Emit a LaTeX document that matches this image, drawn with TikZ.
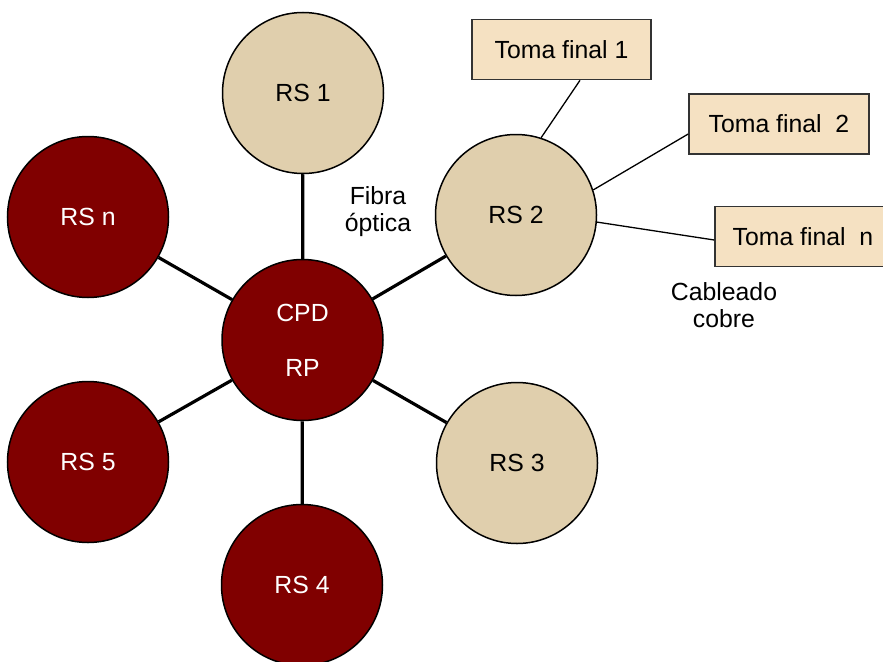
\documentclass[tikz,border=0pt]{standalone}
\usepackage{fontspec}
\setmainfont{Liberation Sans}
\definecolor{darkred}{HTML}{800000}
\definecolor{tanfill}{HTML}{E0CFAD}
\definecolor{boxfill}{HTML}{F5E1C2}
\definecolor{boxline}{HTML}{333333}
\begin{document}
\begin{tikzpicture}[x=1pt,y=-1pt,
  every node/.style={font=\fontsize{24.8}{27}\selectfont, inner sep=0pt},
  redc/.style={circle, draw=black, line width=1.5pt, fill=darkred, text=white, minimum size=161pt},
  tanc/.style={circle, draw=black, line width=1.5pt, fill=tanfill, text=black, minimum size=161pt},
  tbox/.style={rectangle, draw=boxline, line width=1.6pt, fill=boxfill, minimum height=60pt},
  fibre/.style={line width=3.2pt, black},
  copper/.style={line width=1.3pt, black},
  lbl/.style={align=center}]
\useasboundingbox (0,0) rectangle (883,661);
\clip (0,0) rectangle (883,661);
\node[redc, align=center] (cpd) at (302.5,340) {CPD\\[28pt]RP};
\node[tanc] (rs1) at (303,93) {RS 1};
\node[tanc] (rs2) at (516,215) {RS 2};
\node[tanc] (rs3) at (517,463) {RS 3};
\node[redc] (rs4) at (302,585) {RS 4};
\node[redc] (rs5) at (88,462) {RS 5};
\node[redc] (rsn) at (88,217) {RS n};
\node[tbox, minimum width=179pt] (tf1) at (561.5,49.5) {Toma final 1};
\node[tbox, minimum width=180pt] (tf2) at (779,124) {Toma final\ \ 2};
\node[tbox, minimum width=176pt] (tfn) at (803,236.5) {Toma final\ \ n};
\node[lbl] (fo) at (378,212) {Fibra\\óptica};
\node[lbl] (cc) at (724,305) {Cableado\\cobre};
\draw[fibre] (cpd) -- (rs1);
\draw[fibre] (cpd) -- (rs2);
\draw[fibre] (cpd) -- (rs3);
\draw[fibre] (cpd) -- (rs4);
\draw[fibre] (cpd) -- (rs5);
\draw[fibre] (cpd) -- (rsn);
\draw[copper] (rs2.72) -- ([xshift=18.5pt]tf1.south);
\draw[copper] (rs2.18) -- ([yshift=-10pt]tf2.west);
\draw[copper] (rs2.-5.6) -- ([yshift=-3.5pt]tfn.west);
\end{tikzpicture}
\end{document}
